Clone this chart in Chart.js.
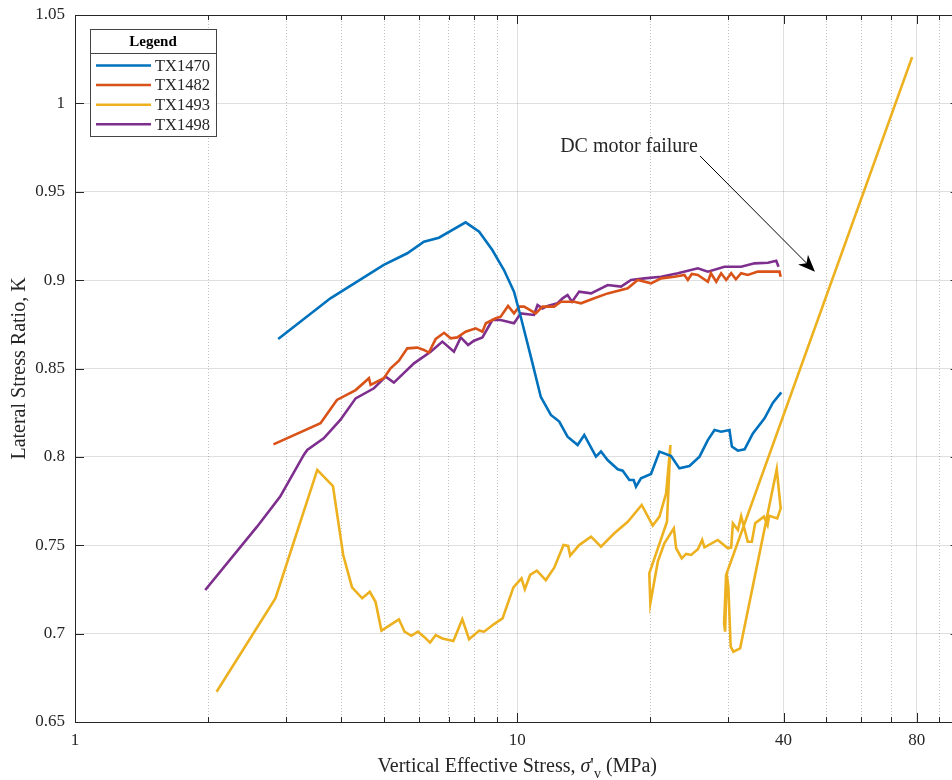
<!DOCTYPE html>
<html>
<head>
<meta charset="utf-8">
<script src="https://cdn.jsdelivr.net/npm/chart.js@4"></script>
<style>
  html, body { margin: 0; padding: 0; overflow: hidden; background: #fff; }
  #wrap { position: absolute; left: 0; top: 0; }
</style>
</head>
<body>
<div id="wrap"><canvas id="myChart" width="962" height="780" style="width:962px;height:780px"></canvas></div>
<script>
// series names and colours (MATLAB default order)
const seriesNames = ["TX1470", "TX1482", "TX1493", "TX1498"];
const seriesColors = ["#0072BD", "#D95319", "#EDB120", "#7E2F8E"];

// vertical effective stress (MPa) / lateral stress ratio K
const tx1470X = [2.88, 3.78, 4.99, 5.64, 6.15, 6.65, 7.64, 8.20, 8.78, 9.33, 9.83, 10.18, 10.73, 11.30, 11.91, 12.44, 12.99, 13.69, 14.17, 15.06, 15.46, 16.00, 16.87, 17.31, 17.92, 18.33, 18.55, 19.04, 20.06, 20.96, 22.27, 23.25, 24.50, 25.82, 26.96, 27.92, 28.90, 30.18, 30.56, 31.52, 32.65, 34.09, 36.22, 37.84, 39.53];
const tx1470Y = [0.8667, 0.8897, 0.9086, 0.9152, 0.9217, 0.9240, 0.9327, 0.9274, 0.9170, 0.9057, 0.8935, 0.8793, 0.8567, 0.8340, 0.8237, 0.8200, 0.8114, 0.8067, 0.8124, 0.8001, 0.8030, 0.7982, 0.7930, 0.7922, 0.7869, 0.7869, 0.7831, 0.7879, 0.7903, 0.8030, 0.8005, 0.7935, 0.7948, 0.8001, 0.8095, 0.8152, 0.8142, 0.8152, 0.8058, 0.8035, 0.8043, 0.8133, 0.8218, 0.8307, 0.8365];

const tx1482X = [2.81, 3.59, 3.91, 4.31, 4.62, 4.66, 4.99, 5.17, 5.40, 5.64, 5.94, 6.15, 6.31, 6.54, 6.83, 7.07, 7.32, 7.64, 8.05, 8.34, 8.49, 8.94, 9.17, 9.53, 9.83, 10.10, 10.36, 11.01, 11.40, 12.11, 12.55, 13.45, 13.93, 14.93, 16.01, 17.77, 18.72, 20.06, 21.14, 22.66, 23.87, 24.30, 24.80, 25.60, 26.97, 27.40, 28.17, 28.90, 29.67, 30.45, 31.20, 32.07, 33.20, 34.99, 38.17, 39.17, 39.38];
const tx1482Y = [0.8071, 0.8190, 0.8322, 0.8378, 0.8445, 0.8407, 0.8445, 0.8501, 0.8544, 0.8614, 0.8618, 0.8605, 0.8590, 0.8667, 0.8702, 0.8671, 0.8676, 0.8708, 0.8727, 0.8708, 0.8756, 0.8784, 0.8793, 0.8854, 0.8812, 0.8850, 0.8850, 0.8812, 0.8850, 0.8850, 0.8878, 0.8878, 0.8869, 0.8897, 0.8925, 0.8954, 0.9001, 0.8982, 0.9010, 0.9019, 0.9029, 0.9001, 0.9035, 0.9029, 0.8991, 0.9039, 0.8991, 0.9039, 0.9001, 0.9039, 0.9005, 0.9039, 0.9029, 0.9048, 0.9048, 0.9048, 0.9019];

const tx1493X = [2.09, 2.84, 3.53, 3.83, 4.04, 4.23, 4.46, 4.64, 4.78, 4.93, 5.40, 5.56, 5.76, 5.96, 6.15, 6.35, 6.54, 6.77, 7.17, 7.51, 7.78, 8.20, 8.41, 8.86, 9.26, 9.80, 10.22, 10.40, 10.69, 11.07, 11.60, 12.12, 12.72, 13.03, 13.17, 13.80, 14.68, 15.46, 16.57, 17.77, 19.11, 20.24, 20.96, 21.70, 22.19, 21.80, 19.88, 19.99, 20.78, 21.50, 22.59, 22.86, 23.54, 24.08, 24.72, 25.60, 26.18, 26.50, 28.40, 29.93, 30.45, 30.72, 31.53, 32.07, 33.20, 33.90, 34.50, 36.10, 36.80, 37.10, 38.70, 39.40, 38.60, 31.90, 30.80, 30.37, 30.00, 29.75, 29.50, 29.35, 29.65, 78.10];
const tx1493Y = [0.6671, 0.7200, 0.7926, 0.7835, 0.7445, 0.7262, 0.7200, 0.7237, 0.7180, 0.7017, 0.7081, 0.7011, 0.6988, 0.7011, 0.6983, 0.6949, 0.6992, 0.6973, 0.6958, 0.7081, 0.6968, 0.7017, 0.7011, 0.7054, 0.7086, 0.7262, 0.7313, 0.7251, 0.7332, 0.7356, 0.7303, 0.7373, 0.7501, 0.7496, 0.7441, 0.7501, 0.7549, 0.7492, 0.7568, 0.7633, 0.7728, 0.7611, 0.7662, 0.7794, 0.8067, 0.7633, 0.7341, 0.7172, 0.7407, 0.7511, 0.7596, 0.7483, 0.7426, 0.7451, 0.7445, 0.7477, 0.7530, 0.7488, 0.7530, 0.7483, 0.7488, 0.7624, 0.7586, 0.7665, 0.7520, 0.7520, 0.7624, 0.7662, 0.7614, 0.7667, 0.7652, 0.7709, 0.7930, 0.6917, 0.6898, 0.6926, 0.7266, 0.7337, 0.7011, 0.7058, 0.7332, 1.0262];

const tx1498X = [1.97, 2.58, 2.91, 3.29, 3.35, 3.65, 3.98, 4.31, 4.74, 5.04, 5.26, 5.84, 6.37, 6.77, 7.19, 7.45, 7.74, 7.98, 8.34, 8.78, 9.17, 9.83, 10.18, 10.91, 11.11, 11.40, 11.71, 12.33, 12.66, 12.99, 13.30, 13.80, 14.68, 16.01, 17.16, 18.08, 19.38, 21.14, 23.06, 25.60, 26.97, 29.40, 32.07, 34.39, 36.87, 38.50, 38.96];
const tx1498Y = [0.7247, 0.7605, 0.7775, 0.8011, 0.8039, 0.8105, 0.8209, 0.8331, 0.8388, 0.8454, 0.8420, 0.8529, 0.8595, 0.8652, 0.8595, 0.8676, 0.8633, 0.8657, 0.8676, 0.8774, 0.8774, 0.8756, 0.8812, 0.8803, 0.8859, 0.8840, 0.8854, 0.8869, 0.8897, 0.8916, 0.8878, 0.8935, 0.8925, 0.8972, 0.8963, 0.9001, 0.9010, 0.9019, 0.9039, 0.9067, 0.9048, 0.9076, 0.9076, 0.9095, 0.9098, 0.9110, 0.9076];

// axes
const xLabelled = [1, 10, 40, 80];
const xGrid = [1, 2, 3, 4, 5, 6, 7, 8, 9, 10, 20, 30, 40, 50, 60, 70, 80, 90, 100];
const yTicks = [0.65, 0.7, 0.75, 0.8, 0.85, 0.9, 0.95, 1, 1.05];

// arrow note
const noteText = "DC motor failure";
const noteAt = { x: 12.5, y: 0.9723 };
const arrowFrom = { x: 25.9, y: 0.9702 };
const arrowTo = { x: 47.1, y: 0.9048 };

const FONT = "'Liberation Serif', 'Times New Roman', serif";
const INK = "#262626";

function pts(xs, ys) {
  return xs.map((x, i) => ({ x: x, y: ys[i] }));
}

const seriesData = [pts(tx1470X, tx1470Y), pts(tx1482X, tx1482Y), pts(tx1493X, tx1493Y), pts(tx1498X, tx1498Y)];

const isMajor = (v) => xLabelled.includes(v);

// box, inward ticks, titles, legend and the note
const decorations = {
  id: "decorations",
  afterDraw(chart) {
    const ctx = chart.ctx;
    const a = chart.chartArea;
    const xs = chart.scales.x;
    const ys = chart.scales.y;
    ctx.save();

    // ticks
    ctx.strokeStyle = INK;
    ctx.lineWidth = 1;
    ctx.beginPath();
    xGrid.forEach((v) => {
      const px = Math.round(xs.getPixelForValue(v)) + 0.5;
      const len = isMajor(v) || v === 100 ? 9 : 5;
      ctx.moveTo(px, a.bottom); ctx.lineTo(px, a.bottom - len);
      ctx.moveTo(px, a.top); ctx.lineTo(px, a.top + len);
    });
    yTicks.forEach((v) => {
      const py = Math.round(ys.getPixelForValue(v)) + 0.5;
      ctx.moveTo(a.left, py); ctx.lineTo(a.left + 9, py);
      ctx.moveTo(a.right, py); ctx.lineTo(a.right - 9, py);
    });
    ctx.stroke();

    // axes box
    const l = Math.round(a.left) + 0.5, r = Math.round(a.right) + 0.5;
    const t = Math.round(a.top) + 0.5, b = Math.round(a.bottom) + 0.5;
    ctx.strokeRect(l, t, r - l, b - t);

    // y title
    ctx.fillStyle = INK;
    ctx.font = "20px " + FONT;
    ctx.textAlign = "center";
    ctx.textBaseline = "middle";
    ctx.save();
    ctx.translate(20, (a.top + a.bottom) / 2);
    ctx.rotate(-Math.PI / 2);
    ctx.fillText("Lateral Stress Ratio, K", 0, 0);
    ctx.restore();

    // x title with sigma'_v
    const parts = [
      { s: "Vertical Effective Stress, ", f: "20px " + FONT, dy: 0 },
      { s: "\u03c3", f: "italic 20px " + FONT, dy: 0 },
      { s: "'", f: "20px " + FONT, dy: 0 },
      { s: "v", f: "14px " + FONT, dy: 6 },
      { s: " (MPa)", f: "20px " + FONT, dy: 0 }
    ];
    let total = 0;
    parts.forEach((p) => { ctx.font = p.f; p.w = ctx.measureText(p.s).width; total += p.w; });
    let cx = (a.left + a.right) / 2 - total / 2;
    ctx.textAlign = "left";
    ctx.textBaseline = "alphabetic";
    parts.forEach((p) => {
      ctx.font = p.f;
      ctx.fillText(p.s, cx, 772 + p.dy);
      cx += p.w;
    });

    // note and arrow
    ctx.font = "20px " + FONT;
    ctx.fillStyle = INK;
    ctx.fillText(noteText, xs.getPixelForValue(noteAt.x), ys.getPixelForValue(noteAt.y));
    const x0 = xs.getPixelForValue(arrowFrom.x), y0 = ys.getPixelForValue(arrowFrom.y);
    const x1 = xs.getPixelForValue(arrowTo.x), y1 = ys.getPixelForValue(arrowTo.y);
    const ang = Math.atan2(y1 - y0, x1 - x0);
    ctx.strokeStyle = "#000";
    ctx.lineWidth = 1;
    ctx.beginPath();
    ctx.moveTo(x0, y0);
    ctx.lineTo(x1 - 8 * Math.cos(ang), y1 - 8 * Math.sin(ang));
    ctx.stroke();
    ctx.save();
    ctx.translate(x1, y1);
    ctx.rotate(ang);
    ctx.fillStyle = "#000";
    ctx.beginPath();
    ctx.moveTo(0, 0);
    ctx.lineTo(-17, -7);
    ctx.lineTo(-12, 0);
    ctx.lineTo(-17, 7);
    ctx.closePath();
    ctx.fill();
    ctx.restore();

    // legend
    const lx = a.left + 15, ly = a.top + 14, lw = 126, lh = 107;
    ctx.fillStyle = "#fff";
    ctx.fillRect(lx, ly, lw, lh);
    ctx.strokeStyle = "#444";
    ctx.lineWidth = 1;
    ctx.strokeRect(Math.round(lx) + 0.5, Math.round(ly) + 0.5, lw, lh);
    ctx.beginPath();
    ctx.moveTo(Math.round(lx), Math.round(ly + 24) + 0.5);
    ctx.lineTo(Math.round(lx + lw) + 1, Math.round(ly + 24) + 0.5);
    ctx.stroke();
    ctx.fillStyle = "#000";
    ctx.font = "bold 15px " + FONT;
    ctx.textAlign = "center";
    ctx.textBaseline = "middle";
    ctx.fillText("Legend", lx + lw / 2, ly + 13);
    ctx.textAlign = "left";
    ctx.font = "16.5px " + FONT;
    chart.data.datasets.forEach((ds, i) => {
      const rowY = ly + 36.5 + i * 19.6;
      ctx.strokeStyle = ds.borderColor;
      ctx.lineWidth = 2.5;
      ctx.beginPath();
      ctx.moveTo(lx + 6, rowY);
      ctx.lineTo(lx + 61, rowY);
      ctx.stroke();
      ctx.fillStyle = INK;
      ctx.fillText(ds.label, lx + 65, rowY + 1);
    });

    ctx.restore();
  }
};

const ctx = document.getElementById("myChart").getContext("2d");
const myChart = new Chart(ctx, {
  type: "line",
  data: {
    datasets: seriesNames.map((name, i) => ({
      label: name,
      data: seriesData[i],
      borderColor: seriesColors[i],
      backgroundColor: seriesColors[i],
      borderWidth: 2.6,
      pointRadius: 0,
      tension: 0,
      fill: false
    }))
  },
  options: {
    responsive: false,
    animation: false,
    layout: { padding: { top: 15, right: 2.4, left: 0, bottom: 0 } },
    plugins: {
      legend: { display: false },
      tooltip: { enabled: false }
    },
    scales: {
      x: {
        type: "logarithmic",
        min: 1,
        max: 100,
        afterBuildTicks: (scale) => { scale.ticks = xGrid.map((v) => ({ value: v })); },
        afterFit: (scale) => {
          scale.height = 58;
          scale.paddingLeft = 0;
          scale.paddingRight = 0;
        },
        ticks: {
          autoSkip: false,
          maxRotation: 0,
          padding: 8,
          color: INK,
          font: { family: FONT, size: 17 },
          callback: (v) => (isMajor(v) ? String(v) : "")
        },
        grid: {
          drawTicks: false,
          color: (c) => (c.tick && isMajor(c.tick.value) ? "rgba(38,38,38,0.15)" : "rgba(38,38,38,0.28)"),
          lineWidth: 1
        },
        border: {
          display: false,
          dash: (c) => (c.tick && !isMajor(c.tick.value) ? [1, 2] : [])
        }
      },
      y: {
        type: "linear",
        min: 0.65,
        max: 1.05,
        afterBuildTicks: (scale) => { scale.ticks = yTicks.map((v) => ({ value: v })); },
        afterFit: (scale) => {
          scale.width = 75;
          scale.paddingTop = 0;
          scale.paddingBottom = 0;
        },
        ticks: {
          padding: 10,
          color: INK,
          font: { family: FONT, size: 17 },
          callback: (v) => String(+v.toFixed(2))
        },
        grid: {
          drawTicks: false,
          color: "rgba(38,38,38,0.15)",
          lineWidth: 1
        },
        border: { display: false }
      }
    }
  },
  plugins: [decorations]
});
</script>
</body>
</html>
